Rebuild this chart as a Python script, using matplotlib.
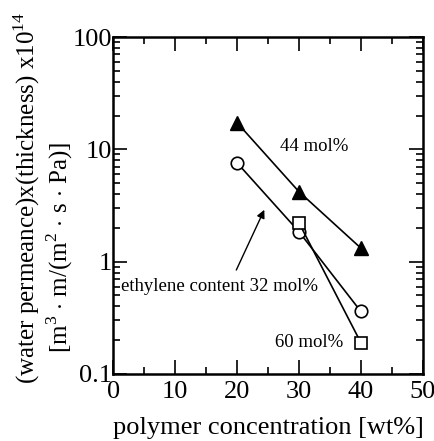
import numpy as np
import matplotlib
matplotlib.use("Agg")
import matplotlib.pyplot as plt
from matplotlib.ticker import LogLocator, MultipleLocator, NullFormatter

plt.rcParams['font.family'] = ['Liberation Serif', 'DejaVu Serif']
plt.rcParams['mathtext.fontset'] = 'custom'
plt.rcParams['mathtext.rm'] = 'Liberation Serif'

# data
conc = [20, 30, 40]
mol44 = [17.3, 4.2, 1.32]
mol32 = [7.6, 1.85, 0.36]
conc60 = [30, 40]
mol60 = [2.22, 0.19]

fig = plt.figure(figsize=(4.35, 4.41), dpi=100)
ax = fig.add_axes([0.26, 0.152, 0.712, 0.764])

ax.plot(conc, mol44, color='black', lw=1.2, marker='^', ms=10, mfc='black', mec='black', zorder=3)
ax.plot(conc, mol32, color='black', lw=1.2, marker='o', ms=9, mfc='white', mec='black', mew=1.2, zorder=2)
ax.plot(conc60, mol60, color='black', lw=1.2, marker='s', ms=9, mfc='white', mec='black', mew=1.2, zorder=2)

ax.set_yscale('log')
ax.set_xlim(0, 50)
ax.set_ylim(0.1, 100)

ax.xaxis.set_major_locator(MultipleLocator(10))
ax.xaxis.set_minor_locator(MultipleLocator(5))
ax.yaxis.set_major_locator(LogLocator(base=10))
ax.yaxis.set_minor_locator(LogLocator(base=10, subs=np.arange(2, 10)))
ax.yaxis.set_minor_formatter(NullFormatter())
ax.set_yticks([0.1, 1, 10, 100])
ax.set_yticklabels(['0.1', '1', '10', '100'])

ax.tick_params(which='both', direction='in', top=True, right=True, width=1.2, labelsize=19)
ax.tick_params(which='major', length=10)
ax.tick_params(axis='x', which='major', pad=5)
ax.tick_params(axis='y', which='major', pad=1)
ax.tick_params(which='minor', length=5)
for s in ax.spines.values():
    s.set_linewidth(1.8)

ax.set_xlabel('polymer concentration [wt%]', fontsize=19, labelpad=10)
# two-line y label, placed line by line
fig.text(0.062, 0.551, '(water permeance)x(thickness) x10$^{14}$',
         fontsize=18, rotation=90, ha='center', va='center')
fig.text(0.138, 0.438, '[m$^3$ $\\cdot$ m/(m$^2$ $\\cdot$ s $\\cdot$ Pa)]',
         fontsize=18, rotation=90, ha='center', va='center')

ax.text(32.4, 10.6, '44 mol%', fontsize=13.5, ha='center', va='center')
ax.text(1.3, 0.6, 'ethylene content 32 mol%', fontsize=13.5, ha='left', va='center')
ax.text(37.2, 0.19, '60 mol%', fontsize=13.5, ha='right', va='center')
ax.annotate('', xy=(24.6, 3.05), xytext=(19.7, 0.8),
            arrowprops=dict(arrowstyle='-|>', color='black', lw=1.0, mutation_scale=12))

fig.savefig('out.png', dpi=100)
